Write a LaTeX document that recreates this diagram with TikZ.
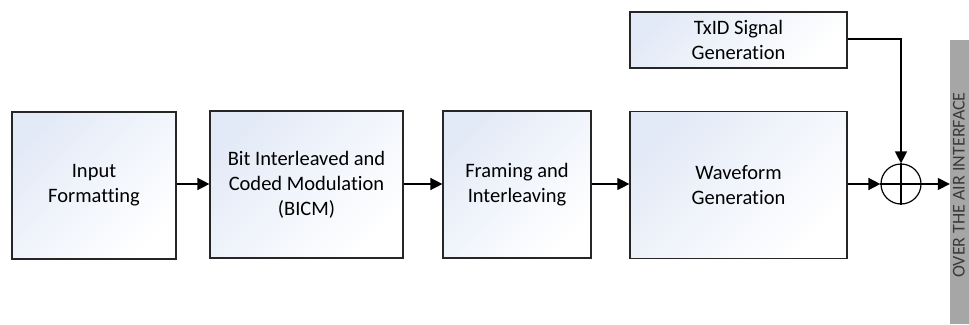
\documentclass[tikz,border=0pt]{standalone}
\usepackage{fontspec}
\setmainfont{Carlito}[Ligatures=NoCommon]
\usepackage{xcolor}
\usepackage{tikz}
\usetikzlibrary{positioning,arrows.meta}
\definecolor{boxtint}{HTML}{E3EAF7}
\definecolor{boxline}{HTML}{262626}
\definecolor{airgray}{HTML}{A6A6A6}
\definecolor{airtext}{HTML}{3A3A3A}

\begin{document}
\begin{tikzpicture}[
    x=1pt, y=-1pt,
    block/.style={draw=boxline, line width=1.2pt, top color=boxtint, bottom color=white,
                  shading angle=45, minimum height=147pt, align=center,
                  font=\fontsize{20.5}{25}\selectfont, inner sep=0pt},
    arrow/.style={-{Triangle[length=12pt,width=12pt]}, line width=1.5pt},
    link/.style={line width=1.2pt}
  ]
    \useasboundingbox (0,0) rectangle (969,324);

    \node[block, minimum width=164pt] (infmt) at (94,185.5) {Input\\Formatting};
    \node[block, minimum width=193pt] (bicm) at (306.5,184.5) {Bit Interleaved and\\Coded Modulation\\(BICM)};
    \node[block, minimum width=148pt] (framing) at (517,184.5) {Framing and\\Interleaving};
    \node[block, minimum width=217pt] (wavegen) at (738.5,185) {Waveform\\Generation};
    \node[block, minimum width=217pt, minimum height=56pt] (txid) at (738.5,40) {TxID Signal\\Generation};

    \node[draw=black, circle, line width=1.2pt, minimum size=40pt, inner sep=0pt] (adder) at (901,184) {};
    \draw[link] (adder.north) -- (adder.south);
    \draw[link] (adder.west) -- (adder.east);

    \node[fill=airgray, minimum width=19pt, minimum height=284pt, inner sep=0pt] (air) at (959.5,182) {};
    \node[rotate=90, anchor=base, text=airtext, font=\fontsize{18}{21}\selectfont, inner sep=0pt]
      (airlbl) at (964.5,185) {OVER THE AIR INTERFACE};

    \draw[arrow] (infmt.east |- 0,184) -- (bicm.west |- 0,184);
    \draw[arrow] (bicm.east |- 0,184) -- (framing.west |- 0,184);
    \draw[arrow, line width=1.1pt] (framing.east |- 0,184) -- (wavegen.west |- 0,184);
    \draw[arrow] (wavegen.east |- adder.west) -- (adder.west);
    \draw[arrow, line width=1.2pt] (txid.east |- 0,39) -| (adder.north);
    \draw[arrow] (adder.east) -- (adder.east -| air.west);
  \end{tikzpicture}
\end{document}
